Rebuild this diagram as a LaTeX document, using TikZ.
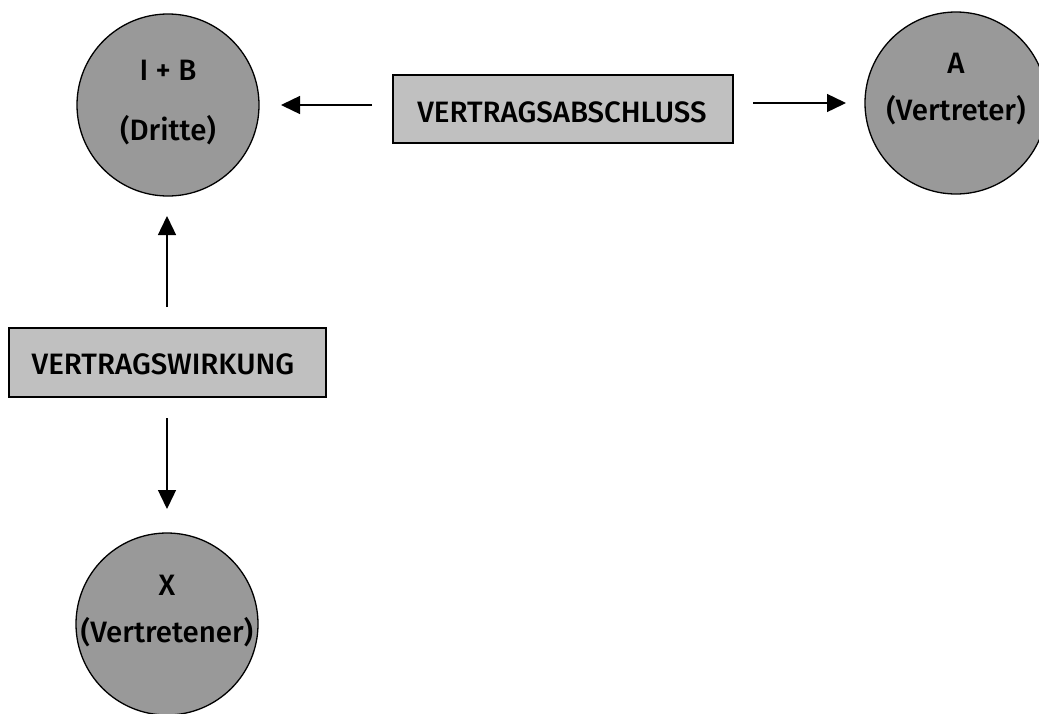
\documentclass[tikz,border=0pt]{standalone}
\usepackage{fontspec}
\setmainfont{Fira Sans}[UprightFont={* Medium}]
\usetikzlibrary{arrows.meta}
\definecolor{partyfill}{HTML}{999999}
\definecolor{boxfill}{HTML}{C0C0C0}
\begin{document}
\begin{tikzpicture}[x=1pt,y=-1pt,
  party/.style={circle,draw=black,line width=1.3pt,fill=partyfill,minimum size=182pt,inner sep=0pt},
  actbox/.style={rectangle,draw=black,line width=1.3pt,fill=boxfill,inner sep=0pt},
  lbl/.style={inner sep=0pt,font=\fontsize{29.5}{35}\selectfont},
  link/.style={line width=1.4pt,-{Triangle[length=19pt,width=18pt]}}]
\useasboundingbox (0,0) rectangle (1039,713);
\begin{scope}
\clip (0,0) rectangle (1039,713);
% parties
\node[party] (dritte) at (168,105) {};
\node[party] (vertreter) at (956,103) {};
\node[party] (vertretener) at (167,624) {};
\end{scope}
% acts
\node[actbox,minimum width=340pt,minimum height=68pt] (abschluss) at (563,109) {};
\node[actbox,minimum width=317pt,minimum height=69pt] (wirkung) at (167.5,362.5) {};
% connectors with a gap between box and arrow
\coordinate (a1s) at (372,105);
\coordinate (a1e) at (281,105);
\coordinate (a2s) at (753,103);
\coordinate (a2e) at (846,103);
\coordinate (a3s) at (167,307);
\coordinate (a3e) at (167,216);
\coordinate (a4s) at (167,418);
\coordinate (a4e) at (167,509);
\draw[link] (a1s) -- (a1e);
\draw[link] (a2s) -- (a2e);
\draw[link] (a3s) -- (a3e);
\draw[link] (a4s) -- (a4e);
% labels
\node[lbl] (t1) at (168,70) {I + B};
\node[lbl] (t2) at (168,130) {(Dritte)};
\node[lbl] (t3) at (956,63) {A};
\node[lbl] (t4) at (956,110) {(Vertreter)};
\node[lbl] (t5) at (167,585) {X};
\node[lbl] (t6) at (167,632) {(Vertretener)};
\node[lbl] (ta) at (562,112) {VERTRAGSABSCHLUSS};
\node[lbl] (tw) at (163,364) {VERTRAGSWIRKUNG};
\end{tikzpicture}
\end{document}
